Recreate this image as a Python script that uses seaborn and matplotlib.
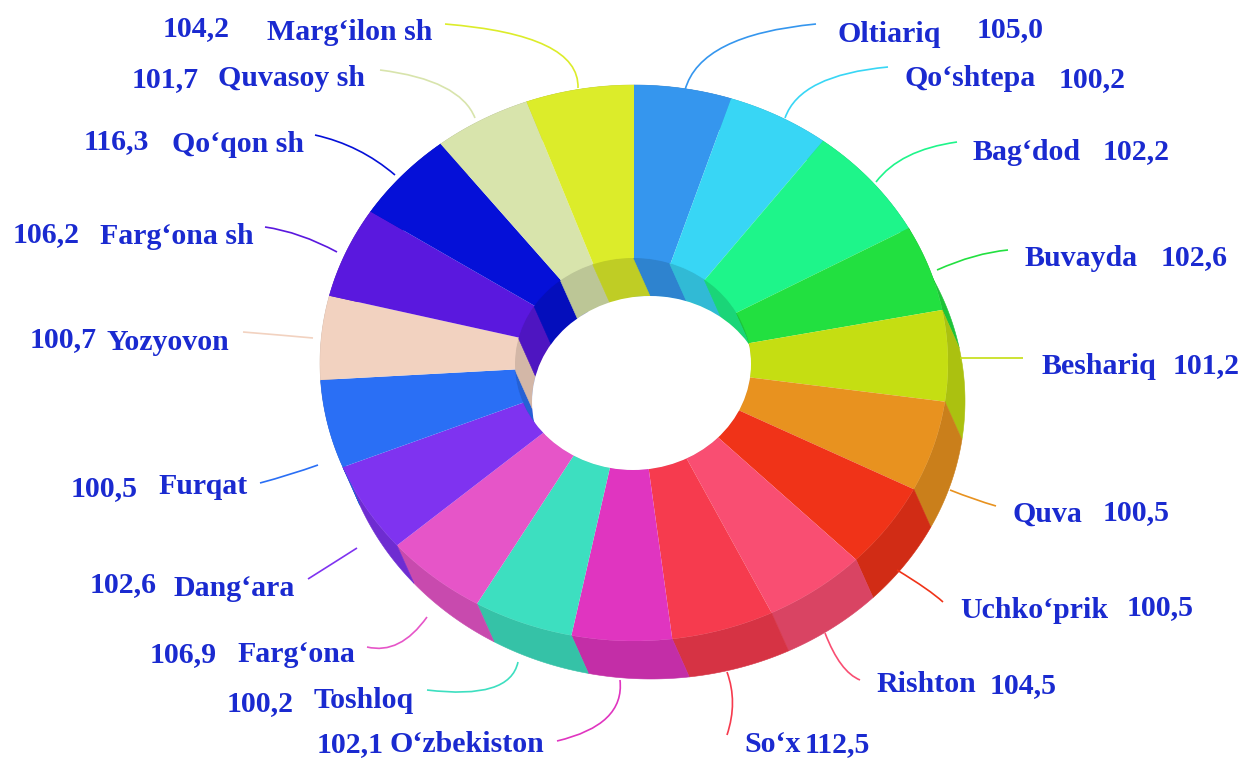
"""Regional index donut (3D look): seaborn palette, pie for the top face, extruded walls."""
import matplotlib
matplotlib.use("Agg")
import matplotlib.pyplot as plt
import numpy as np
import seaborn as sns
from matplotlib.patches import Ellipse, PathPatch
from matplotlib.path import Path

names = ["Oltiariq", "Qo‘shtepa", "Bag‘dod", "Buvayda", "Beshariq", "Quva", "Uchko‘prik",
         "Rishton", "So‘x", "O‘zbekiston", "Toshloq", "Farg‘ona", "Dang‘ara", "Furqat",
         "Yozyovon", "Farg‘ona sh", "Qo‘qon sh", "Quvasoy sh", "Marg‘ilon sh"]
values = [105.0, 100.2, 102.2, 102.6, 101.2, 100.5, 100.5,
          104.5, 112.5, 102.1, 100.2, 106.9, 102.6, 100.5,
          100.7, 106.2, 116.3, 101.7, 104.2]
# slice sizes in degrees, they do not follow the printed index
slice_shares = [18, 19, 24, 18, 19, 19, 18, 19, 19, 18.5, 18.5, 19, 19, 18.5, 17.5, 19, 19, 18, 20]
hex_colors = ["#3596ee", "#38d6f5", "#1ef58a", "#22e040", "#c5de12", "#e8921f", "#f03318",
              "#f94e72", "#f63b4e", "#e035c0", "#3ddfc0", "#e655c8", "#7f33f0", "#2a6ff5",
              "#f2d2c0", "#5a18de", "#0510d8", "#d8e4ac", "#dcec2a"]

# label layout in pixels: name x, name y, value x, value y
label_pos = [(838, 32, 977, 28), (905, 76, 1059, 78), (973, 150, 1103, 150), (1025, 257, 1161, 256),
             (1042, 364, 1173, 364), (1013, 512, 1103, 511), (960, 608, 1127, 606), (876, 683, 990, 684),
             (744, 743, 805, 743), (390, 743, 317, 743), (314, 698, 227, 702), (237, 653, 150, 653),
             (174, 586, 90, 583), (158, 485, 71, 487), (107, 340, 30, 338), (100, 234, 13, 233),
             (172, 142, 84, 140), (218, 77, 132, 78), (267, 31, 163, 27)]
# leader lines: start, control, end in pixels
leaders = [((816, 24), (700, 35), (685, 90)), ((888, 67), (800, 75), (785, 118)),
           ((957, 142), (900, 150), (876, 182)), ((937, 270), (975, 253), (1008, 250)),
           ((960, 358), (990, 358), (1023, 358)), ((950, 490), (975, 500), (996, 506)),
           ((897, 570), (930, 590), (943, 602)), ((825, 633), (840, 672), (860, 680)),
           ((727, 672), (738, 702), (727, 735)), ((620, 680), (625, 725), (557, 741)),
           ((518, 662), (510, 700), (427, 690)), ((427, 617), (400, 655), (367, 647)),
           ((357, 548), (335, 562), (308, 579)), ((318, 465), (290, 475), (260, 483)),
           ((313, 338), (280, 335), (243, 332)), ((337, 252), (300, 232), (265, 227)),
           ((395, 175), (360, 145), (315, 135)), ((475, 118), (460, 80), (380, 70)),
           ((578, 88), (580, 35), (445, 24))]

W, H = 1243, 760
TEXT_BLUE = "#1a2ad0"
TEXT_DROP = 2                 # va="center" sits a little high for this font
OUTER = (634, 363, 314, 278)  # cx, cy, rx, ry of the top face
RIM = (633, 364, 118, 106)    # inner edge of the top face
SHIFT = (17, 38)              # extrusion of the ring, down and to the right

sns.set_theme(style="white")
plt.rcParams["font.family"] = ["Liberation Serif", "DejaVu Serif"]

top_colors = sns.color_palette(hex_colors)
dark_colors = [tuple(np.array(c) * 0.87) for c in top_colors]

edges = np.cumsum([0] + slice_shares) / sum(slice_shares) * 2 * np.pi


def arc(ellipse, start, stop, shift=(0, 0)):
    """Points on an ellipse, angle measured clockwise from 12 o'clock."""
    cx, cy, rx, ry = ellipse
    t = np.linspace(start, stop, 30)
    return cx + rx * np.sin(t) + shift[0], cy - ry * np.cos(t) + shift[1]


def wall(ax, ellipse, clip=None):
    """One extruded band per slice between an ellipse and its shifted copy."""
    for i, col in enumerate(dark_colors):
        x0, y0 = arc(ellipse, edges[i], edges[i + 1])
        x1, y1 = arc(ellipse, edges[i], edges[i + 1], SHIFT)
        polys = ax.fill(np.r_[x0, x1[::-1]], np.r_[y0, y1[::-1]], color=col, lw=0.4)
        if clip is not None:
            polys[0].set_clip_path(clip)


def pixel_axes(fig):
    ax = fig.add_axes([0, 0, 1, 1])
    ax.set_xlim(0, W)
    ax.set_ylim(H, 0)
    ax.axis("off")
    ax.patch.set_alpha(0)
    return ax


fig = plt.figure(figsize=(W / 100, H / 100), dpi=100, facecolor="white")

# outer wall sits under the top face
back = pixel_axes(fig)
wall(back, OUTER)

cx, cy, rx, ry = OUTER
top = fig.add_axes([(cx - rx) / W, 1 - (cy + ry) / H, 2 * rx / W, 2 * ry / H])
top.pie(slice_shares, colors=top_colors, startangle=90, counterclock=False, radius=1,
        wedgeprops={"linewidth": 0})
top.set_aspect("auto")
top.set_xlim(-1, 1)
top.set_ylim(-1, 1)
top.patch.set_alpha(0)

overlay = pixel_axes(fig)

# inner wall, then the white hole, both seen only through the rim
rim = Ellipse(RIM[:2], 2 * RIM[2], 2 * RIM[3], transform=overlay.transData)
wall(overlay, RIM, clip=rim)
hole = Ellipse((RIM[0] + SHIFT[0], RIM[1] + SHIFT[1]), 2 * RIM[2], 2 * RIM[3],
               facecolor="white", edgecolor="none")
overlay.add_patch(hole)
hole.set_clip_path(rim)

for name, value, pos, lead, col in zip(names, values, label_pos, leaders, top_colors):
    path = Path(list(lead), [Path.MOVETO, Path.CURVE3, Path.CURVE3])
    overlay.add_patch(PathPatch(path, facecolor="none", edgecolor=col, linewidth=1.2))
    value_text = f"{value:.1f}".replace(".", ",")
    overlay.text(pos[0], pos[1] + TEXT_DROP, name, color=TEXT_BLUE, fontsize=21.5,
                 fontweight="bold", ha="left", va="center")
    overlay.text(pos[2], pos[3] + TEXT_DROP, value_text, color=TEXT_BLUE, fontsize=21.5,
                 fontweight="bold", ha="left", va="center")

fig.savefig("out.png", dpi=100)
